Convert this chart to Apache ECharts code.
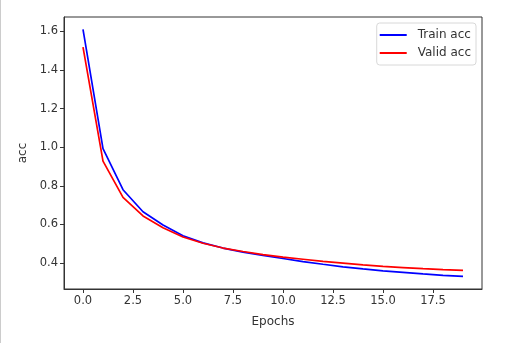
<!DOCTYPE html>
<html>
<head>
<meta charset="utf-8">
<script src="https://cdn.jsdelivr.net/npm/echarts@6/dist/echarts.min.js"></script>
<style>
  html, body { margin: 0; padding: 0; background: #fff; }
  #chart { width: 511px; height: 353px; }
</style>
</head>
<body>
<div id="chart"></div>
<script>
// epochs 0..19
const epochs = [0, 1, 2, 3, 4, 5, 6, 7, 8, 9, 10, 11, 12, 13, 14, 15, 16, 17, 18, 19];
const trainAcc = [1.61, 0.993, 0.78, 0.666, 0.597, 0.542, 0.505, 0.478, 0.457, 0.44,
  0.424, 0.408, 0.394, 0.381, 0.37, 0.36, 0.352, 0.344, 0.337, 0.331];
const validAcc = [1.518, 0.928, 0.74, 0.644, 0.583, 0.535, 0.503, 0.478, 0.46, 0.444,
  0.431, 0.42, 0.409, 0.4, 0.391, 0.383, 0.377, 0.371, 0.366, 0.362];
const xTicks = [0, 2.5, 5, 7.5, 10, 12.5, 15, 17.5];
const yTicks = [0.4, 0.6, 0.8, 1.0, 1.2, 1.4, 1.6];

const font = "DejaVu Sans";
const chart = echarts.init(document.getElementById("chart"));

function pairs(ys) {
  return epochs.map((e, i) => [e, ys[i]]);
}

chart.setOption({
  animation: false,
  textStyle: { fontFamily: font },
  graphic: [
    {
      type: "line",
      shape: { x1: 0.5, y1: 0, x2: 0.5, y2: 343 },
      style: { stroke: "#cccccc", lineWidth: 1 },
    },
  ],
  grid: {
    left: 64,
    top: 17,
    right: 29,
    bottom: 64,
    show: true,
    borderColor: "#333",
    borderWidth: 1,
  },
  legend: {
    orient: "vertical",
    right: 35,
    top: 23,
    icon: "rect",
    itemWidth: 27,
    itemHeight: 2,
    itemGap: 6,
    padding: [6, 5, 6, 3],
    borderColor: "#d8d8d8",
    borderWidth: 1,
    borderRadius: 3,
    textStyle: { fontFamily: font, fontSize: 12, color: "#333", padding: [0, 0, 0, 6] },
    data: ["Train acc", "Valid acc"],
  },
  xAxis: {
    type: "value",
    min: -0.95,
    max: 19.95,
    name: "Epochs",
    nameLocation: "middle",
    nameGap: 27,
    nameTextStyle: { fontFamily: font, fontSize: 12, color: "#333" },
    splitLine: { show: false },
    axisLine: { onZero: false, lineStyle: { color: "#333" } },
    axisTick: { show: true, length: 4, customValues: xTicks, lineStyle: { color: "#333" } },
    axisLabel: {
      customValues: xTicks,
      formatter: (v) => v.toFixed(1),
      fontFamily: font,
      fontSize: 11.5,
      color: "#333",
      margin: 6,
    },
  },
  yAxis: {
    type: "value",
    min: 0.266,
    max: 1.674,
    name: "acc",
    nameLocation: "middle",
    nameGap: 34,
    nameTextStyle: { fontFamily: font, fontSize: 12, color: "#333" },
    splitLine: { show: false },
    axisLine: { show: true, onZero: false, lineStyle: { color: "#333" } },
    axisTick: { show: true, length: 4, customValues: yTicks, lineStyle: { color: "#333" } },
    axisLabel: {
      customValues: yTicks,
      formatter: (v) => v.toFixed(1),
      fontFamily: font,
      fontSize: 11.5,
      color: "#333",
      margin: 6,
    },
  },
  series: [
    {
      name: "Train acc",
      type: "line",
      data: pairs(trainAcc),
      symbol: "none",
      itemStyle: { color: "#0000ff" },
      lineStyle: { color: "#0000ff", width: 1.7 },
    },
    {
      name: "Valid acc",
      type: "line",
      data: pairs(validAcc),
      symbol: "none",
      itemStyle: { color: "#ff0000" },
      lineStyle: { color: "#ff0000", width: 1.7 },
    },
  ],
});
</script>
</body>
</html>
